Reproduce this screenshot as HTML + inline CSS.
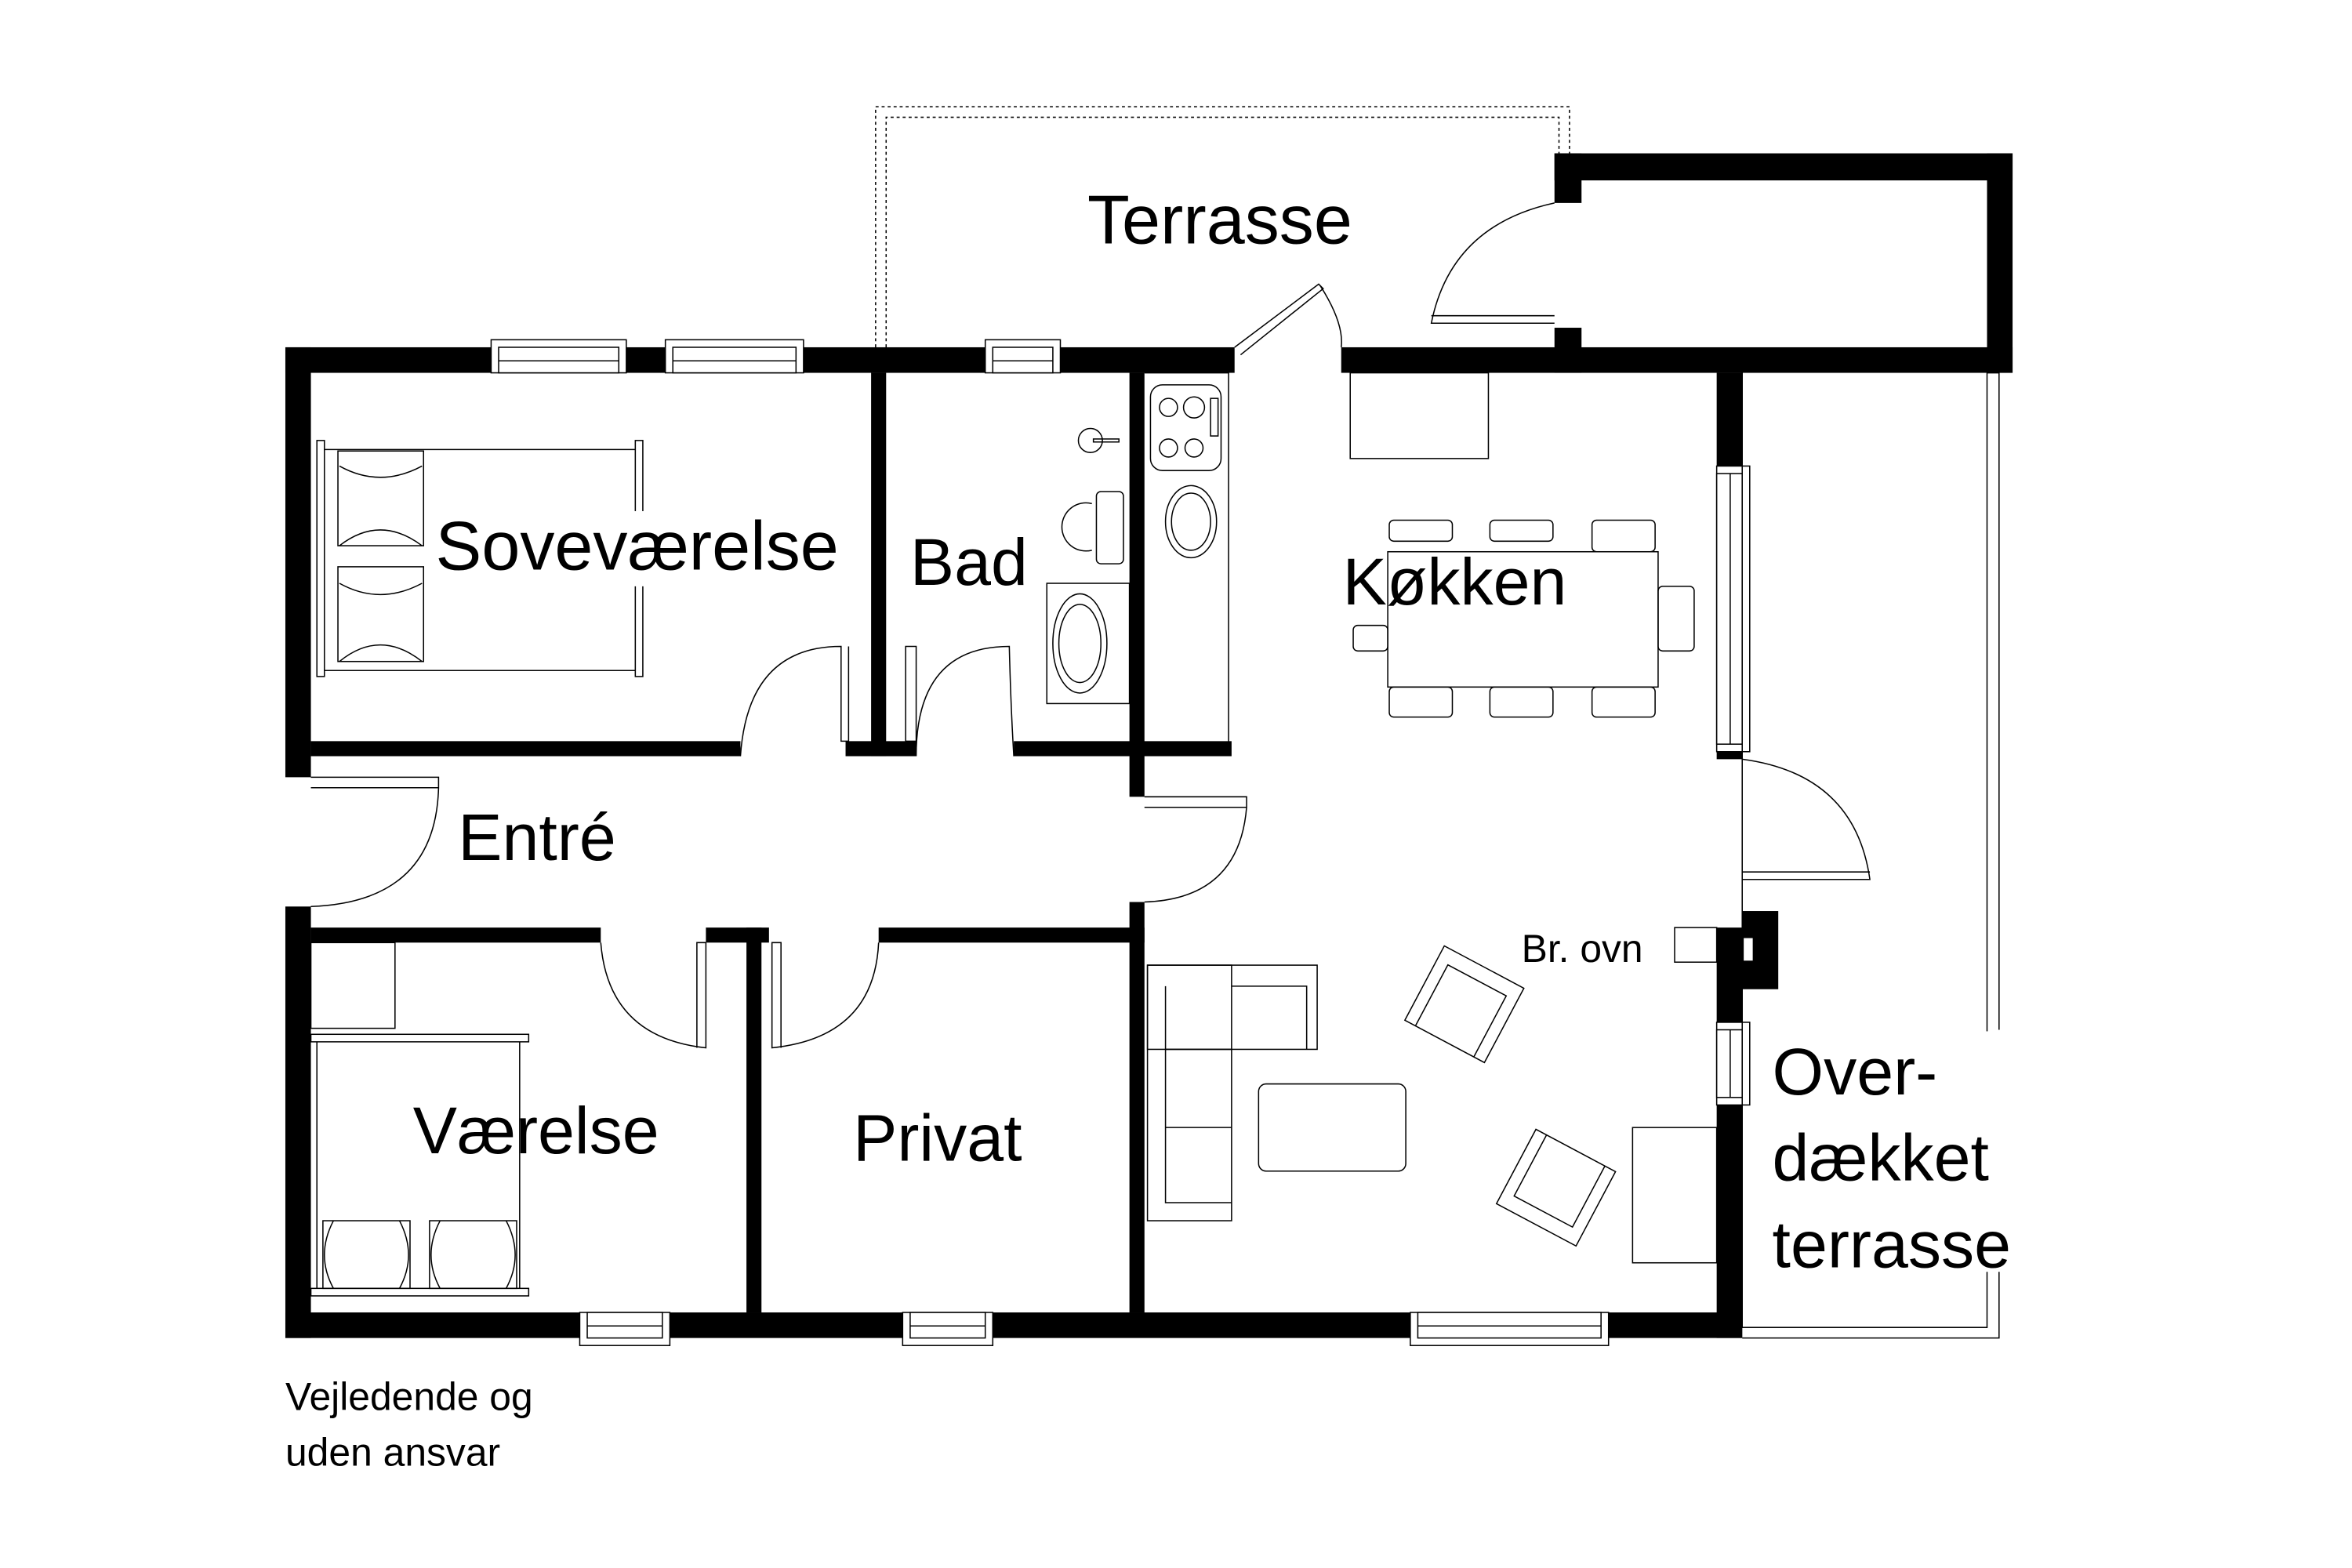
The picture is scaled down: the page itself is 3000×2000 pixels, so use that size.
<!DOCTYPE html>
<html><head><meta charset="utf-8"><style>
html,body{margin:0;padding:0;background:#fff;width:3000px;height:2000px;overflow:hidden}
svg{display:block}
text{font-family:"Liberation Sans",sans-serif;fill:#000}
</style></head><body>
<svg width="3000" height="2000" viewBox="0 0 1566 1043" preserveAspectRatio="none" xmlns="http://www.w3.org/2000/svg">
<rect width="1566" height="1043" fill="#fff"/>
<g fill="none" stroke="#000" stroke-width="0.8" stroke-dasharray="2,2">
<path d="M583 231 V71 H1045 V102"/>
<path d="M590 231 V78 H1038 V102"/>
</g>
<g fill="#000">
<rect x="190" y="231" width="632" height="17"/>
<rect x="893" y="231" width="447" height="17"/>
<rect x="190" y="231" width="17" height="286"/>
<rect x="190" y="603" width="17" height="287"/>
<rect x="190" y="873" width="970" height="17"/>
<rect x="1035" y="102" width="305" height="18"/>
<rect x="1323" y="102" width="17" height="146"/>
<rect x="1035" y="102" width="18" height="33"/>
<rect x="1035" y="218" width="18" height="30"/>
<rect x="1143" y="248" width="17" height="62"/>
<rect x="1143" y="500" width="17" height="5"/>
<rect x="1143" y="617" width="17" height="63"/>
<rect x="1160" y="606" width="24" height="52"/>
<rect x="1143" y="735" width="17" height="155"/>
<rect x="580" y="248" width="10" height="255"/>
<rect x="207" y="493" width="286" height="10"/>
<rect x="563" y="493" width="47" height="10"/>
<rect x="675" y="493" width="145" height="10"/>
<rect x="752" y="248" width="10" height="282"/>
<rect x="207" y="617" width="193" height="10"/>
<rect x="470" y="617" width="42" height="10"/>
<rect x="585" y="617" width="177" height="10"/>
<rect x="497" y="617" width="10" height="256"/>
<rect x="752" y="600" width="10" height="273"/>
</g>
<rect x="1161" y="624" width="6" height="15" fill="#fff"/>
<g fill="#fff" stroke="#000" stroke-width="0.8">
<rect x="327" y="226" width="90" height="22"/><rect x="332" y="231" width="80" height="17"/><line x1="332" y1="240" x2="412" y2="240"/>
<rect x="443" y="226" width="92" height="22"/><rect x="448" y="231" width="82" height="17"/><line x1="448" y1="240" x2="530" y2="240"/>
<rect x="656" y="226" width="50" height="22"/><rect x="661" y="231" width="40" height="17"/><line x1="661" y1="240" x2="701" y2="240"/>
<rect x="386" y="873" width="60" height="22"/><rect x="391" y="873" width="50" height="17"/><line x1="391" y1="882" x2="441" y2="882"/>
<rect x="601" y="873" width="60" height="22"/><rect x="606" y="873" width="50" height="17"/><line x1="606" y1="882" x2="656" y2="882"/>
<rect x="939" y="873" width="132" height="22"/><rect x="944" y="873" width="122" height="17"/><line x1="944" y1="882" x2="1066" y2="882"/>
<rect x="1143" y="310" width="22" height="190"/><rect x="1143" y="315" width="17" height="180"/><line x1="1152" y1="315" x2="1152" y2="495"/>
<rect x="1143" y="680" width="22" height="55"/><rect x="1143" y="685" width="17" height="45"/><line x1="1152" y1="685" x2="1152" y2="730"/>
</g>
<g fill="none" stroke="#000" stroke-width="0.8">
<path d="M1160 248 V883 H1323 V248"/>
<path d="M1323 248 H1331 V685 M1331 840 V890 H1160"/>
<path d="M822 231 L878 189 L881 192 L826 236"/>
<path d="M879 190 Q895 215 893 231"/>
<path d="M1035 135 Q966 150 953 215 H1035 M953 210 H1035"/>
<path d="M493 503 Q498 430 560 430 L560 493 L565 493 L565 430"/>
<path d="M610 503 Q610 430 672 430 Q673 470 675 503"/>
<path d="M603 430 H610 V493 H603 Z"/>
<path d="M207 517 H292 V524 H207 M292 524 Q290 600 207 603"/>
<path d="M762 530 H830 V537 H762 M830 537 Q825 598 762 600"/>
<path d="M400 627 Q405 690 470 697 V627 H464 V697"/>
<path d="M585 627 Q582 690 514 697 V627 H520 V697"/>
<path d="M1160 505 Q1235 515 1245 585 H1160 M1160 580 H1245"/>
<rect x="1115" y="617" width="28" height="23"/>
<path d="M762 248 H818 V503"/>
<rect x="766" y="256" width="47" height="57" rx="8"/>
<circle cx="778" cy="271" r="6"/><circle cx="795" cy="271" r="7"/><circle cx="778" cy="298" r="6"/><circle cx="795" cy="298" r="6"/>
<rect x="806" y="265" width="5" height="25"/>
<ellipse cx="793" cy="347" rx="17" ry="24"/><ellipse cx="793" cy="347" rx="13" ry="19"/>
<circle cx="726" cy="293" r="8"/><rect x="728" y="292" width="17" height="2"/>
<rect x="730" y="327" width="18" height="48" rx="3"/>
<path d="M727 335 A16 16 0 1 0 727 366"/>
<rect x="697" y="388" width="55" height="80"/>
<ellipse cx="719" cy="428" rx="18" ry="33"/><ellipse cx="719" cy="428" rx="14" ry="26"/>
<rect x="211" y="293" width="5" height="157"/>
<rect x="423" y="293" width="5" height="157"/>
<path d="M216 299 H423 M216 446 H423"/>
<rect x="225" y="300" width="57" height="63"/>
<rect x="225" y="377" width="57" height="63"/>
<path d="M226 310 Q253 325 281 310 M226 363 Q253 342 281 363 M226 388 Q253 403 281 388 M226 440 Q253 418 281 440"/>
<rect x="899" y="248" width="92" height="57"/>
<rect x="924" y="367" width="180" height="90"/>
<rect x="925" y="346" width="42" height="14" rx="3"/><rect x="992" y="346" width="42" height="14" rx="3"/><rect x="1060" y="346" width="42" height="21" rx="3"/>
<rect x="925" y="457" width="42" height="20" rx="3"/><rect x="992" y="457" width="42" height="20" rx="3"/><rect x="1060" y="457" width="42" height="20" rx="3"/>
<rect x="1104" y="390" width="24" height="43" rx="3"/>
<rect x="901" y="416" width="23" height="17" rx="3"/>
<rect x="764" y="642" width="113" height="56"/>
<rect x="764" y="642" width="56" height="170"/>
<path d="M820 656 H870 V698 M776 656 V800 H820 M776 698 H820 M776 750 H820"/>
<rect x="838" y="721" width="98" height="58" rx="5"/>
<g transform="translate(975 668) rotate(28)"><rect x="-30" y="-28" width="60" height="56"/><path d="M-22 28 V-18 H22 V28"/></g>
<g transform="translate(1036 790) rotate(-152)"><rect x="-30" y="-28" width="60" height="56"/><path d="M-22 28 V-18 H22 V28"/></g>
<rect x="1087" y="750" width="56" height="90"/>
<rect x="207" y="627" width="56" height="57"/>
<rect x="207" y="688" width="145" height="5"/>
<rect x="207" y="857" width="145" height="5"/>
<path d="M211 693 V857 M346 693 V857"/>
<rect x="215" y="812" width="58" height="45"/><rect x="286" y="812" width="58" height="45"/>
<path d="M222 812 Q210 835 222 857 M266 812 Q278 835 266 857 M293 812 Q281 835 293 857 M337 812 Q349 835 337 857"/>
</g>
<rect x="290" y="340" width="275" height="50" fill="#fff"/>
<rect x="354" y="725" width="100" height="50" fill="#fff"/>
<text x="724" y="162" font-size="46">Terrasse</text>
<text x="290" y="379" font-size="46">Soveværelse</text>
<text x="606" y="389" font-size="44">Bad</text>
<text x="894" y="402" font-size="44">Køkken</text>
<text x="305" y="572" font-size="44">Entré</text>
<text x="275" y="767" font-size="44">Værelse</text>
<text x="568" y="772" font-size="44">Privat</text>
<text x="1013" y="640" font-size="26">Br. ovn</text>
<rect x="1176" y="686" width="170" height="160" fill="#fff"/>
<text x="1180" y="728" font-size="44">Over-</text>
<text x="1180" y="785" font-size="44">dækket</text>
<text x="1180" y="843" font-size="44">terrasse</text>
<text x="190" y="938" font-size="26">Vejledende og</text>
<text x="190" y="975" font-size="26">uden ansvar</text>
</svg>
</body></html>
